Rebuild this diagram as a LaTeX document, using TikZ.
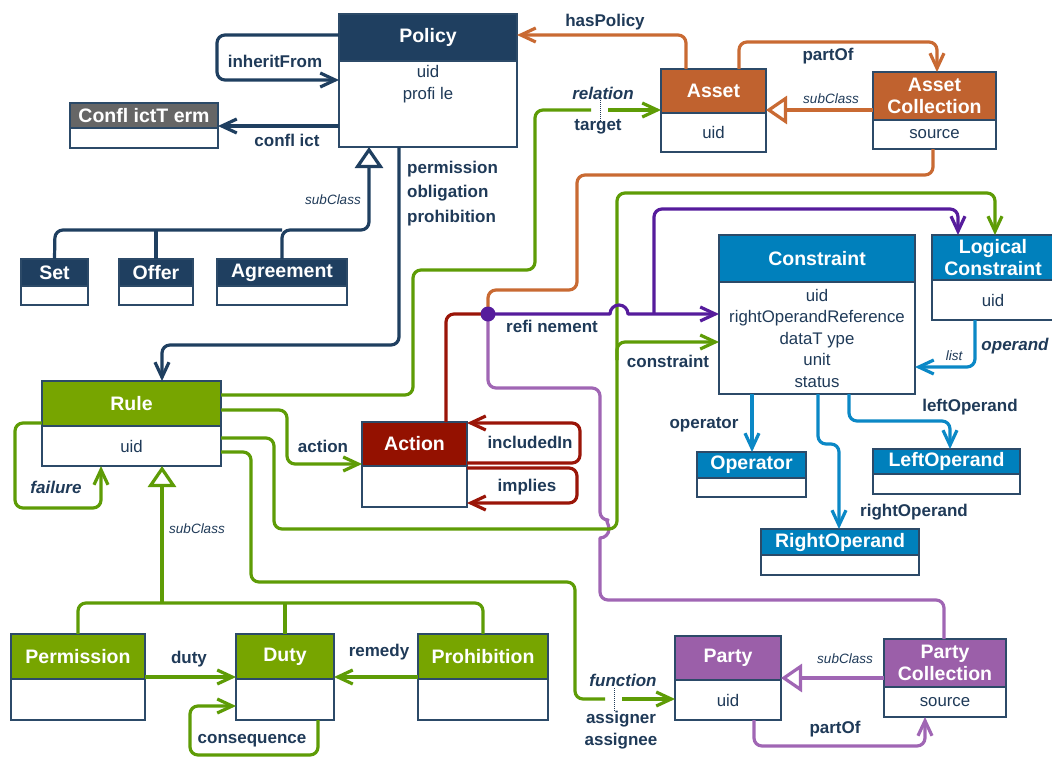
\documentclass[tikz,border=0pt]{standalone}
\usepackage{fontspec}
\setmainfont{Liberation Sans}
\usetikzlibrary{arrows.meta,calc}
\definecolor{navy}{HTML}{1F3F60}
\definecolor{txt}{HTML}{1F3A58}
\definecolor{boxc}{HTML}{2C4A68}
\definecolor{grayh}{HTML}{666666}
\definecolor{orH}{HTML}{C0622F}
\definecolor{orL}{HTML}{C96A33}
\definecolor{grH}{HTML}{77A500}
\definecolor{grL}{HTML}{5E9C06}
\definecolor{rdH}{HTML}{941100}
\definecolor{rdL}{HTML}{9A1508}
\definecolor{blH}{HTML}{0080BC}
\definecolor{blL}{HTML}{0B88C6}
\definecolor{puD}{HTML}{561C9C}
\definecolor{puL}{HTML}{A066B4}
\definecolor{puH}{HTML}{9B5FA9}
\tikzset{
  hdr/.style={draw=boxc, line width=1.2pt, inner sep=0pt, outer sep=0pt, text=white, align=center, font=\fontsize{19.5}{22.5}\selectfont\bfseries},
  bdy/.style={draw=boxc, line width=1.2pt, fill=white, inner sep=0pt, outer sep=0pt, text=txt, align=center, font=\fontsize{16.8}{21.5}\selectfont},
  btxt/.style={inner sep=0pt, text=txt, align=center, font=\fontsize{16.8}{22}\selectfont},
  lbl/.style={text=txt, font=\fontsize{17}{24.5}\selectfont\bfseries, inner sep=0pt},
  ilbl/.style={text=txt, font=\fontsize{17}{20}\selectfont\bfseries\itshape, inner sep=0pt},
  sub/.style={text=txt, font=\fontsize{13.5}{16}\selectfont\itshape, inner sep=0pt},
  conn/.style={line width=3.2pt, rounded corners=8pt, line join=round},
  arr/.style={-{Straight Barb[length=15pt,width=14pt]}},
  gen/.style={-{Triangle[open,fill=white,length=21pt,width=28pt]}},
  dotn/.style={circle, fill=puD, inner sep=0pt, minimum size=15pt},
  gapline/.style={densely dotted, txt, line width=1pt}
}
\newcommand{\umlbox}[9]{%
  \node[hdr, fill=#7, minimum width={#4-#2}, minimum height={#5-#3}, anchor=north west] (#1) at (#2,#3) {#8};
  \node[bdy, minimum width={#4-#2}, minimum height={#6-#5}, anchor=north west] (#1B) at (#2,#5) {#9};
}
\begin{document}
\begin{tikzpicture}[x=1pt,y=-1pt]
\fill[white] (0,0) rectangle (1052,758);
\useasboundingbox (0,0) rectangle (1052,758);

% boxes
\umlbox{policy}{339}{14}{517}{61}{147}{navy}{Policy}{}
\node[btxt] (policyT) at (428,84) {uid\\profi le};
\umlbox{ct}{70}{103}{218}{128}{148}{grayh}{Confl ictT erm}{}
\umlbox{set}{21}{259}{88}{286}{305}{navy}{Set}{}
\umlbox{offer}{119}{259}{193}{286}{305}{navy}{Offer}{}
\umlbox{agr}{217}{259}{347}{286}{305}{navy}{Agreement}{}
\umlbox{asset}{661}{69}{766}{113}{152}{orH}{Asset}{uid}
\umlbox{ac}{873}{72}{996}{120}{149}{orH}{Asset\\Collection}{source}
\umlbox{cons}{719}{235}{915}{282}{394}{blH}{Constraint}{uid\\rightOperandReference\\dataT ype\\unit\\status}
\umlbox{lc}{932}{235}{1054}{280}{320}{blH}{Logical\\Constraint}{uid}
\umlbox{op}{697}{452}{806}{478}{497}{blH}{Operator}{}
\umlbox{lo}{873}{449}{1020}{474}{494}{blH}{LeftOperand}{}
\umlbox{ro}{761}{529}{919}{555}{575}{blH}{RightOperand}{}
\umlbox{rule}{42}{381}{221}{426}{466}{grH}{Rule}{uid}
\umlbox{action}{362}{422}{467}{466}{507}{rdH}{Action}{}
\umlbox{perm}{11}{634}{145}{679}{720}{grH}{Permission}{}
\umlbox{duty}{236}{634}{334}{679}{720}{grH}{Duty}{}
\umlbox{prohib}{418}{634}{548}{679}{720}{grH}{Prohibition}{}
\umlbox{party}{675}{636}{781}{680}{720}{puH}{Party}{uid}
\umlbox{pc}{884}{639}{1006}{687}{717}{puH}{Party\\Collection}{source}

\coordinate (dotc) at (488,314);

% Policy connectors
\draw[conn, navy, arr] (policy.west |- 0,35) -- (217,35) -- (217,80) -- (policyB.west |- 0,80);
\node[lbl] (lInh) at (275,61) {inheritFrom};
\draw[conn, navy, arr] (policyB.west |- 0,126) -- (ct.east |- 0,126);
\node[lbl] (lConf) at (287,140) {confl ict};
\draw[conn, navy] (set.north) -- (55,230) -- (282,230);
\draw[conn, navy] (offer.north) -- (156,230);
\draw[conn, navy, gen] (agr.north) -- (282,230) -- (369,230) -- (policyB.south -| 369,0);
\node[sub] (lSub1) at (333,200) {subClass};
\draw[conn, navy, arr] (policyB.south -| 399,0) -- (399,345) -- (162,345) -- (rule.north -| 162,0);
\node[lbl, align=left, anchor=west] (lPerm) at (407,193.5) {permission\\obligation\\prohibition};

% Asset connectors
\draw[conn, orL, arr] (asset.north -| 686,0) -- (686,35) -- (policy.east |- 0,35);
\node[lbl] (lHas) at (605,22) {hasPolicy};
\draw[conn, orL, arr] (asset.north -| 739,0) -- (739,42) -- (937,42) -- (ac.north -| 937,0);
\node[lbl] (lPart1) at (828,56) {partOf};
\draw[conn, orL, gen] (ac.west |- 0,110) -- (asset.east |- 0,110);
\node[sub] (lSub2) at (831,99) {subClass};
\draw[conn, orL] (acB.south -| 933,0) -- (933,175) -- (577,175) -- (577,290) -- (488,290) -- (dotc);

% refinement
\draw[conn, rdL] (dotc) -- (446,314) -- (action.north -| 446,0);
\draw[conn, puL] (dotc) -- (488,388) -- (600,388) -- (600,520) [sharp corners] arc[start angle=90, end angle=-90, radius=9pt] [rounded corners=8pt] -- (600,600) -- (944,600) -- (pc.north -| 944,0);

% Rule connectors
\draw[conn, grL] (rule.east |- 0,395) -- (413,395) -- (413,270) -- (535,270) -- (535,110) -- (591,110);
\coordinate (relGap) at (608,110);
\draw[conn, grL, arr] (relGap) -- (asset.west |- 0,110);
\draw[gapline] (600,100) -- (600,121);
\node[ilbl] (lRel) at (603,93) {relation};
\node[lbl] (lTgt) at (598,127) {target};

\draw[conn, grL, arr] (rule.east |- 0,410) -- (287,410) -- (287,464) -- (action.west |- 0,464);
\node[lbl] (lAct) at (323,446) {action};

\draw[conn, grL, arr] (ruleB.east |- 0,438) -- (274,438) -- (274,529) -- (617,529) -- (617,342) -- (consB.west |- 0,342);
\node[lbl] (lCons) at (668,361) {constraint};
\coordinate (cg) at (617,360);
\draw[conn, grL, arr] (cg) -- (617,193) -- (995,193) -- (lc.north -| 995,0);

\draw[conn, puD, arr, sharp corners] (dotc) -- (610,314) arc[start angle=180, end angle=0, radius=9pt] -- (consB.west |- 0,314);
\coordinate (rb) at (654,314);
\draw[conn, puD, arr] (rb) -- (654,209) -- (958,209) -- (lc.north -| 958,0);
\node[lbl] (lRef) at (552,326) {refi nement};

\draw[conn, grL] (ruleB.east |- 0,452) -- (251,452) -- (251,582) -- (575,582) -- (575,699) -- (605,699);
\coordinate (fnGap) at (622,699);
\draw[conn, grL, arr] (fnGap) -- (partyB.west |- 0,699);
\draw[gapline] (614,688) -- (614,712);
\node[ilbl] (lFn) at (623,680) {function};
\node[lbl] (lAsg) at (621,719) {assigner};
\node[lbl] (lAse) at (621,741) {assignee};

\draw[conn, grL, arr] (rule.west |- 0,423) -- (15,423) -- (15,508) -- (101,508) -- (ruleB.south -| 101,0);
\node[ilbl] (lFail) at (56,487) {failure};

\draw[conn, grL] (perm.north) -- (78,603) -- (483,603) -- (prohib.north);
\draw[conn, grL] (duty.north) -- (285,603);
\coordinate (rsub) at (162,603);
\draw[conn, grL, gen] (rsub) -- (ruleB.south -| 162,0);
\node[sub] (lSub3) at (197,529) {subClass};

\draw[conn, grL, arr] (perm.east |- 0,677) -- (duty.west |- 0,677);
\node[lbl] (lDuty) at (189,659) {duty};
\draw[conn, grL, arr] (prohib.west |- 0,677) -- (duty.east |- 0,677);
\node[lbl] (lRem) at (379,652) {remedy};
\draw[conn, grL, arr] (dutyB.south -| 318,0) -- (318,755) -- (190,755) -- (190,706) -- (dutyB.west |- 0,706);
\node[lbl] (lConseq) at (252,741) {consequence};

% Action loops
\draw[conn, rdL, arr] (action.east |- 0,463) -- (580,463) -- (580,423) -- (action.east |- 0,423);
\node[lbl] (lInc) at (530,442) {includedIn};
\draw[conn, rdL, arr] (actionB.east |- 0,468) -- (577,468) -- (577,503) -- (actionB.east |- 0,503);
\node[lbl] (lImp) at (527,487) {implies};

% Constraint connectors
\draw[conn, blL, arr] (lcB.south -| 975,0) -- (975,367) -- (consB.east |- 0,367);
\node[sub] (lList) at (954,356) {list};
\node[ilbl] (lOpd) at (1015,346) {operand};
\draw[conn, blL, arr] (consB.south -| 752,0) -- (op.north -| 752,0);
\node[lbl] (lOp) at (704,425) {operator};
\draw[conn, blL, arr] (consB.south -| 818,0) -- (818,444) -- (839,444) -- (ro.north -| 839,0);
\node[lbl] (lRO) at (914,512) {rightOperand};
\draw[conn, blL, arr] (consB.south -| 849,0) -- (849,421) -- (950,421) -- (lo.north -| 950,0);
\node[lbl] (lLO) at (970,407) {leftOperand};

% Party connectors
\draw[conn, puL, gen] (pc.west |- 0,678) -- (party.east |- 0,678);
\node[sub] (lSub4) at (845,659) {subClass};
\draw[conn, puL, arr] (partyB.south -| 754,0) -- (754,746) -- (925,746) -- (pcB.south -| 925,0);
\node[lbl] (lPart2) at (835,729) {partOf};

\node[dotn] (dot) at (dotc) {};
\end{tikzpicture}
\end{document}
